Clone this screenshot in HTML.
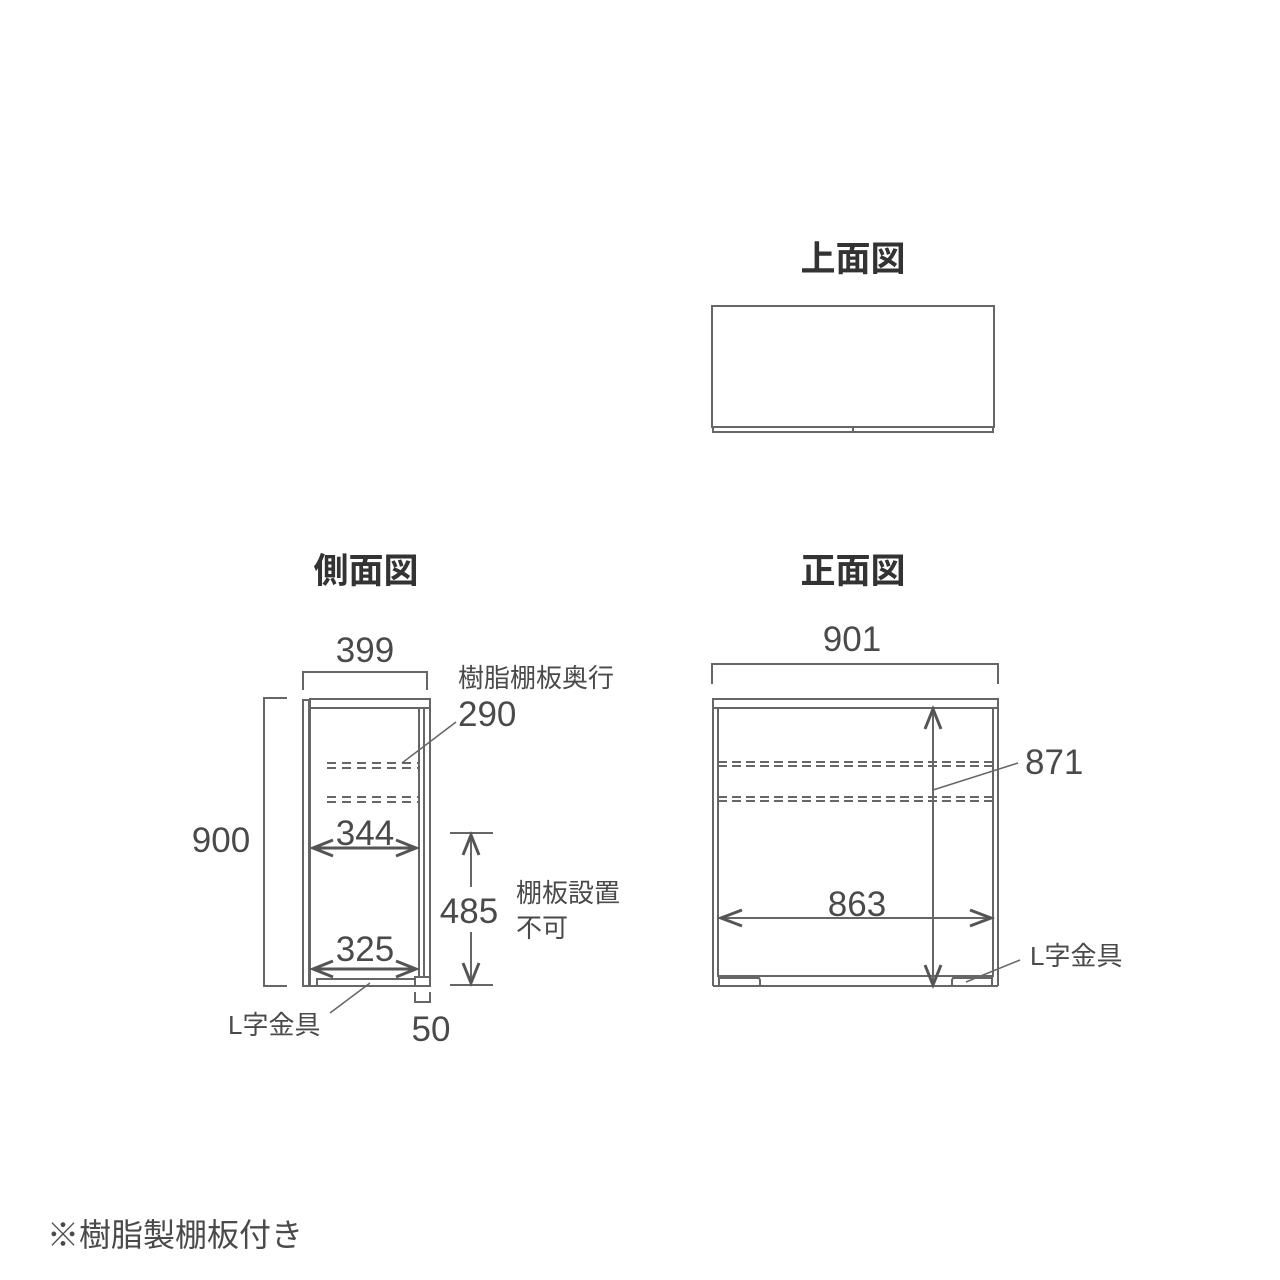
<!DOCTYPE html>
<html><head><meta charset="utf-8"><style>
html,body{margin:0;padding:0;background:#fff;}
svg{display:block;}
text{font-family:"Liberation Sans","Noto Sans CJK JP",sans-serif;fill:#4a4a4a;}
.t{font-size:35px;font-weight:bold;fill:#333;}
.n{font-size:35px;}
.j{font-size:26px;}
</style></head><body>
<svg width="1280" height="1280" viewBox="0 0 1280 1280" xmlns="http://www.w3.org/2000/svg">
<g fill="none" stroke="#666" stroke-width="2">
<rect x="712" y="306" width="282" height="121"/>
<rect x="713" y="427" width="280" height="5"/>
<line x1="853" y1="427" x2="853" y2="432"/>

<rect x="303" y="700" width="6" height="286"/>
<rect x="310" y="699" width="120" height="9"/>
<line x1="310" y1="708" x2="310" y2="986"/>
<line x1="419" y1="708" x2="419" y2="977"/>
<line x1="424" y1="708" x2="424" y2="977"/>
<line x1="430" y1="708" x2="430" y2="986"/>
<line x1="303" y1="986" x2="430" y2="986"/>
<rect x="317" y="979" width="98" height="7"/>
<rect x="415" y="977" width="15" height="9"/>
<g stroke-dasharray="9,6">
<line x1="327" y1="763" x2="419" y2="763"/><line x1="327" y1="768" x2="419" y2="768"/>
<line x1="327" y1="797" x2="419" y2="797"/><line x1="327" y1="802" x2="419" y2="802"/>
</g>
<polyline points="303,690 303,672 427,672 427,690"/>
<polyline points="287,698 264,698 264,986 287,986"/>
<line x1="450" y1="833" x2="493" y2="833"/>
<line x1="450" y1="985" x2="493" y2="985"/>
<line x1="471" y1="835" x2="471" y2="887"/>
<line x1="471" y1="932" x2="471" y2="983"/>
<g stroke-width="3" stroke="#555">
<polyline points="463,855 471,835 479,855"/>
<polyline points="463,963 471,983 479,963"/>
<line x1="313" y1="848" x2="416" y2="848"/>
<polyline points="333,840 313,848 333,856"/><polyline points="396,840 416,848 396,856"/>
<line x1="313" y1="969" x2="416" y2="969"/>
<polyline points="333,961 313,969 333,977"/><polyline points="396,961 416,969 396,977"/>
</g>
<polyline points="415,992 415,1002 430,1002 430,992"/>
<line x1="402" y1="763" x2="456" y2="722" stroke-width="1.5"/>
<line x1="370" y1="983" x2="330" y2="1013" stroke-width="1.5"/>

<rect x="713" y="699" width="285" height="9"/>
<line x1="713" y1="708" x2="713" y2="986"/>
<line x1="718" y1="708" x2="718" y2="977"/>
<line x1="993" y1="708" x2="993" y2="977"/>
<line x1="998" y1="708" x2="998" y2="986"/>
<line x1="713" y1="986" x2="998" y2="986"/>
<line x1="718" y1="976" x2="993" y2="976"/>
<path d="M719,986 V978 H759 L760,980 V986"/>
<path d="M992,986 V978 H953 L952,980 V986"/>
<g stroke-dasharray="9,5">
<line x1="718" y1="762" x2="993" y2="762"/><line x1="718" y1="766" x2="993" y2="766"/>
<line x1="718" y1="797" x2="993" y2="797"/><line x1="718" y1="801" x2="993" y2="801"/>
</g>
<line x1="933" y1="709" x2="933" y2="985"/>
<line x1="721" y1="918" x2="991" y2="918"/>
<g stroke-width="3" stroke="#555">
<polyline points="925,729 933,709 941,729"/><polyline points="925,965 933,985 941,965"/>
<polyline points="742,910 721,918 742,926"/><polyline points="970,910 991,918 970,926"/>
</g>
<polyline points="712,684 712,664 998,664 998,684"/>
<line x1="933" y1="790" x2="1018" y2="763" stroke-width="1.5"/>
<line x1="966" y1="982" x2="1020" y2="960" stroke-width="1.5"/>
</g>

<text class="t" x="853" y="271" text-anchor="middle">上面図</text>
<text class="t" x="366" y="583" text-anchor="middle">側面図</text>
<text class="t" x="853" y="583" text-anchor="middle">正面図</text>

<text class="n" x="365" y="662" text-anchor="middle">399</text>
<text class="j" x="458" y="687">樹脂棚板奥行</text>
<text class="n" x="458" y="726">290</text>
<text class="n" x="221" y="852" text-anchor="middle">900</text>
<text class="n" x="365" y="845" text-anchor="middle">344</text>
<text class="n" x="365" y="961" text-anchor="middle">325</text>
<text class="n" x="469" y="923" text-anchor="middle">485</text>
<text class="j" x="516" y="902">棚板設置</text>
<text class="j" x="516" y="937">不可</text>
<text class="j" x="228" y="1034">L字金具</text>
<text class="n" x="431" y="1041" text-anchor="middle">50</text>

<text class="n" x="852" y="651" text-anchor="middle">901</text>
<text class="n" x="1025" y="774">871</text>
<text class="n" x="857" y="916" text-anchor="middle">863</text>
<text class="j" x="1030" y="965">L字金具</text>

<text x="47" y="1246" style="font-size:32px">※樹脂製棚板付き</text>
</svg>
</body></html>
